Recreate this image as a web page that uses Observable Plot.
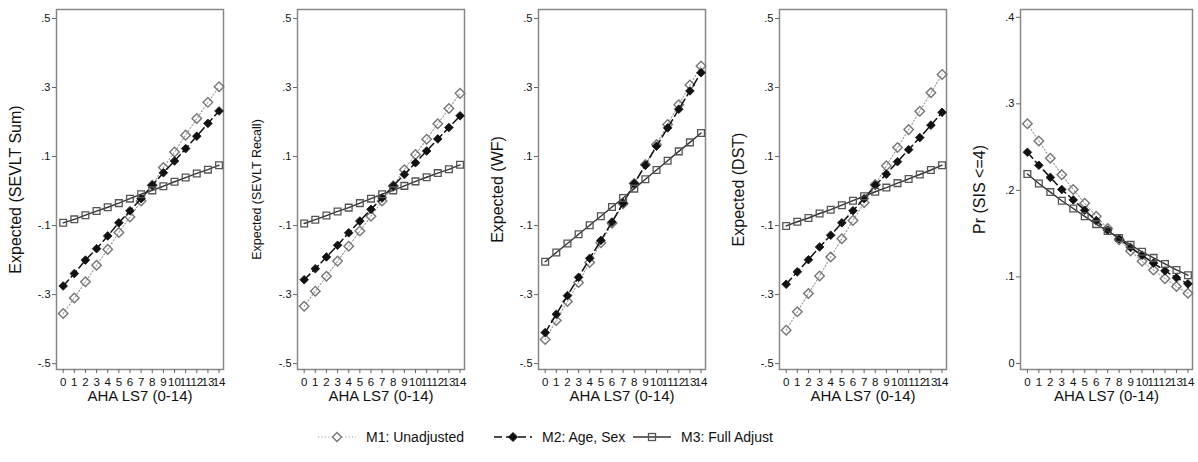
<!DOCTYPE html>
<html>
<head>
<meta charset="utf-8">
<script src="https://cdn.jsdelivr.net/npm/d3@7"></script>
<script src="https://cdn.jsdelivr.net/npm/@observablehq/plot@0.6"></script>
<style>
  body { margin: 0; background: #fff; font-family: "Liberation Sans", Arial, sans-serif; }
  #wrap { position: relative; width: 1198px; height: 462px; overflow: hidden; background: #fff; }
  #row { position: absolute; left: 0; top: 0; display: flex; }
  .leg { position: absolute; top: 428px; height: 18px; display: flex; align-items: center; font-size: 14px; color: #111; }
  .leg svg { margin-right: 10px; }
</style>
</head>
<body>
<div id="wrap">
  <div id="row"></div>
  <div class="leg" style="left:318px"><svg width="38" height="18"><line x1="0" y1="9" x2="38" y2="9" stroke="#999" stroke-width="1.1" stroke-dasharray="1.2,2.2"/><path d="M19,4.5L23.5,9L19,13.5L14.5,9Z" fill="#fff" stroke="#777" stroke-width="1.4"/></svg>M1: Unadjusted</div>
  <div class="leg" style="left:494px"><svg width="38" height="18"><line x1="0" y1="9" x2="38" y2="9" stroke="#111" stroke-width="1.5" stroke-dasharray="8,4"/><path d="M19,4.5L23.5,9L19,13.5L14.5,9Z" fill="#111" stroke="#111" stroke-width="1"/></svg>M2: Age, Sex</div>
  <div class="leg" style="left:633px"><svg width="38" height="18"><line x1="0" y1="9" x2="38" y2="9" stroke="#333" stroke-width="1.4"/><rect x="15.5" y="5.5" width="7" height="7" fill="none" stroke="#555" stroke-width="1.3"/></svg>M3: Full Adjust</div>
</div>
<script>
// AHA LS7 score (x axis)
const ls7 = [0, 1, 2, 3, 4, 5, 6, 7, 8, 9, 10, 11, 12, 13, 14];
const seriesNames = ["M1: Unadjusted", "M2: Age, Sex", "M3: Full Adjust"];

// Panel 1: Expected (SEVLT Sum)
const sevltSumM1 = [-0.355, -0.310, -0.263, -0.215, -0.169, -0.120, -0.075, -0.029, 0.017, 0.068, 0.113, 0.162, 0.210, 0.257, 0.302];
const sevltSumM2 = [-0.275, -0.239, -0.200, -0.167, -0.130, -0.092, -0.057, -0.022, 0.017, 0.053, 0.087, 0.123, 0.159, 0.196, 0.232];
const sevltSumM3 = [-0.092, -0.082, -0.070, -0.058, -0.047, -0.035, -0.022, -0.009, 0.002, 0.014, 0.027, 0.039, 0.051, 0.062, 0.075];

// Panel 2: Expected (SEVLT Recall)
const sevltRecM1 = [-0.334, -0.290, -0.247, -0.203, -0.160, -0.116, -0.073, -0.029, 0.015, 0.062, 0.106, 0.150, 0.195, 0.239, 0.283];
const sevltRecM2 = [-0.257, -0.225, -0.191, -0.157, -0.121, -0.087, -0.053, -0.020, 0.015, 0.048, 0.082, 0.116, 0.151, 0.184, 0.218];
const sevltRecM3 = [-0.094, -0.083, -0.071, -0.059, -0.048, -0.035, -0.022, -0.009, 0.002, 0.015, 0.028, 0.040, 0.052, 0.063, 0.076];

// Panel 3: Expected (WF)
const wfM1 = [-0.430, -0.375, -0.320, -0.265, -0.207, -0.150, -0.093, -0.037, 0.022, 0.077, 0.135, 0.193, 0.250, 0.307, 0.362];
const wfM2 = [-0.410, -0.357, -0.303, -0.250, -0.195, -0.143, -0.090, -0.035, 0.022, 0.075, 0.130, 0.183, 0.237, 0.290, 0.343];
const wfM3 = [-0.205, -0.178, -0.152, -0.125, -0.099, -0.073, -0.046, -0.020, 0.007, 0.034, 0.061, 0.088, 0.115, 0.141, 0.168];

// Panel 4: Expected (DST)
const dstM1 = [-0.403, -0.350, -0.297, -0.246, -0.191, -0.138, -0.085, -0.034, 0.019, 0.073, 0.126, 0.178, 0.231, 0.285, 0.338];
const dstM2 = [-0.270, -0.234, -0.199, -0.162, -0.128, -0.092, -0.057, -0.022, 0.017, 0.049, 0.085, 0.120, 0.155, 0.191, 0.228];
const dstM3 = [-0.101, -0.089, -0.078, -0.065, -0.054, -0.041, -0.028, -0.015, -0.002, 0.010, 0.023, 0.035, 0.048, 0.061, 0.075];

// Panel 5: Pr (SIS <=4)
const sisM1 = [0.277, 0.257, 0.237, 0.218, 0.201, 0.185, 0.170, 0.156, 0.143, 0.130, 0.118, 0.108, 0.098, 0.089, 0.081];
const sisM2 = [0.244, 0.229, 0.215, 0.201, 0.189, 0.177, 0.165, 0.154, 0.144, 0.134, 0.125, 0.116, 0.107, 0.099, 0.092];
const sisM3 = [0.219, 0.208, 0.198, 0.188, 0.179, 0.170, 0.161, 0.153, 0.145, 0.137, 0.129, 0.122, 0.115, 0.108, 0.102];

// Tick values
const yTicksStd = [-0.5, -0.3, -0.1, 0.1, 0.3, 0.5];
const yTicksPr = [0, 0.1, 0.2, 0.3, 0.4];

const panels = [
  {label: "Expected (SEVLT Sum)", size: 16, m: [sevltSumM1, sevltSumM2, sevltSumM3], ticks: yTicksStd, domain: [-0.517, 0.526]},
  {label: "Expected (SEVLT Recall)", size: 12.5, m: [sevltRecM1, sevltRecM2, sevltRecM3], ticks: yTicksStd, domain: [-0.517, 0.526]},
  {label: "Expected (WF)", size: 16, m: [wfM1, wfM2, wfM3], ticks: yTicksStd, domain: [-0.517, 0.526]},
  {label: "Expected (DST)", size: 16, m: [dstM1, dstM2, dstM3], ticks: yTicksStd, domain: [-0.517, 0.526]},
  {label: "Pr (SIS <=4)", size: 16, m: [sisM1, sisM2, sisM3], ticks: yTicksPr, domain: [-0.007, 0.409]}
];

const fmt = d => {
  if (Math.abs(d) < 1e-9) return "0";
  return d3.format(".1f")(d).replace("0.", ".").replace("\u2212", "-");
};

const row = document.getElementById("row");
panels.forEach((p, i) => {
  const rows = p.m.map(vals => ls7.map((x, j) => ({x, y: vals[j]})));
  const last = i === panels.length - 1;
  const chart = Plot.plot({
    width: last ? 234 : 241,
    height: 414,
    marginLeft: 56,
    marginRight: last ? 6 : 18,
    marginTop: 9,
    marginBottom: 45,
    style: {fontFamily: "Liberation Sans, Arial, sans-serif", fontSize: "11px", color: "#111", background: "white", overflow: "visible"},
    x: {domain: [-0.6, 14.4]},
    y: {domain: p.domain},
    marks: [
      Plot.frame({stroke: "#888", strokeWidth: 1.5}),
      Plot.axisY({ticks: p.ticks, tickFormat: fmt, tickSize: 4, tickPadding: 2, stroke: "#666", label: null, fontSize: 11}),
      Plot.axisX({ticks: ls7, tickFormat: d => String(d), tickSize: 4, tickPadding: 4, stroke: "#666", label: null, fontSize: 11.5}),
      Plot.text([p.label], {frameAnchor: "left", textAnchor: "middle", dx: -41, rotate: -90, fontSize: p.size, fill: "#111"}),
      Plot.text(["AHA LS7 (0-14)"], {frameAnchor: "bottom", dy: 31, fontSize: 15, fill: "#111"}),
      Plot.line(rows[0], {x: "x", y: "y", stroke: "#999", strokeWidth: 1.1, strokeDasharray: "1.2,2.2"}),
      Plot.dot(rows[0], {x: "x", y: "y", symbol: "diamond2", r: 4.3, fill: "none", stroke: "#777", strokeWidth: 1.4}),
      Plot.line(rows[1], {x: "x", y: "y", stroke: "#111", strokeWidth: 1.5, strokeDasharray: "8,4"}),
      Plot.dot(rows[1], {x: "x", y: "y", symbol: "diamond2", r: 3.9, fill: "#111", stroke: "#111", strokeWidth: 0.8}),
      Plot.line(rows[2], {x: "x", y: "y", stroke: "#333", strokeWidth: 1.4}),
      Plot.dot(rows[2], {x: "x", y: "y", symbol: "square", r: 3.8, fill: "none", stroke: "#555", strokeWidth: 1.3})
    ]
  });
  row.appendChild(chart);
});
</script>
</body>
</html>
